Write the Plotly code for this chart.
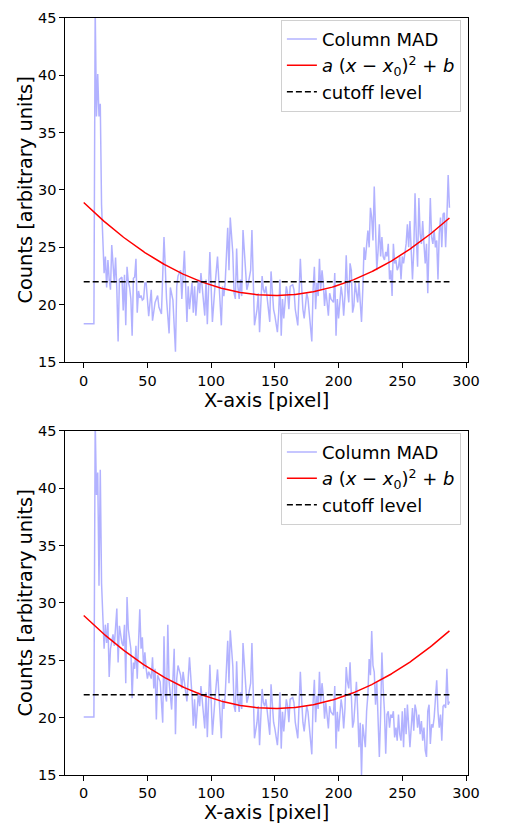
import plotly.graph_objects as go

# ---------------- data ----------------
x1 = [0, 1, 2, 3, 4, 5, 6, 7, 8, 9, 10, 11, 12, 13, 14, 16, 17, 18, 19, 20, 21, 22, 23, 24, 25, 26, 27, 28, 30,
      31, 32, 33, 34, 35, 36, 37, 38, 39, 40, 41, 42, 43, 44, 45, 46, 47, 48, 49, 51, 53, 54, 56, 58, 59, 61,
      63, 64, 65, 67, 68, 70, 72, 73, 74, 76, 77, 79, 81, 82, 83, 85, 86, 87, 88, 90, 91, 92, 94, 95, 96, 97,
      99, 100, 101, 103, 104, 105, 106, 108, 109, 110, 111, 113, 114, 115, 117, 118, 119, 120, 121, 122, 123,
      124, 125, 127, 128, 129, 131, 132, 133, 134, 136, 137, 138, 140, 141, 142, 143, 145, 146, 147, 148, 149,
      150, 152, 153, 154, 155, 156, 157, 159, 160, 161, 162, 164, 165, 166, 168, 169, 170, 171, 172, 173, 175,
      176, 178, 179, 180, 181, 182, 183, 184, 185, 186, 187, 188, 189, 190, 192, 193, 194, 196, 197, 198, 199,
      200, 201, 202, 203, 204, 205, 206, 207, 208, 209, 210, 211, 212, 213, 214, 215, 216, 217, 218, 219, 220,
      221, 222, 223, 224, 225, 226, 227, 228, 229, 230, 231, 232, 233, 234, 235, 236, 237, 238, 239, 240, 241,
      242, 243, 244, 245, 246, 247, 248, 249, 250, 251, 253, 254, 255, 256, 257, 258, 259, 260, 261, 262, 263,
      264, 265, 266, 267, 268, 269, 270, 271, 272, 273, 274, 275, 276, 277, 278, 279, 280, 281, 282, 283, 284,
      285, 286, 287]
mad1 = [18.35, 18.35, 18.35, 18.35, 18.35, 18.35, 18.35, 18.35, 18.35, 46.0, 36.4, 40.1, 36.4, 37.5, 28.7, 22.75,
        24.2, 21.5, 23.9, 22.2, 21.3, 25.2, 23.0, 21.9, 24.1, 21.3, 16.8, 22.2, 22.4,
        19.5, 22.6, 18.2, 23.3, 22.0, 21.5, 20.5, 17.3, 22.3, 22.4, 24.0, 19.3, 21.2, 20.6, 20.8, 20.4, 20.5, 21.9,
        21.9, 19.0, 21.3, 18.6, 20.2, 20.8, 19.8, 19.2,
        25.9, 23.3, 20.5, 17.5, 21.5, 20.4, 15.9, 21.6, 22.5, 23.0, 20.5, 24.7, 18.5, 21.6, 19.6, 21.9, 19.3, 21.6,
        19.05, 22.2, 21.0, 22.75, 20.5, 19.05, 22.2, 18.3,
        24.6, 21.0, 18.5, 21.6, 22.75, 24.2, 22.2, 18.2, 21.6, 20.75, 21.9, 26.7, 23.0, 27.6, 24.5, 21.0, 20.5, 24.9,
        21.6, 20.5, 22.2,
        20.75, 26.5, 23.3, 21.3, 21.75, 23.0, 26.5, 21.0, 18.2, 19.6, 21.0, 17.6, 22.5, 21.3, 21.0, 21.6, 19.3, 18.5,
        22.9, 21.0, 19.6,
        19.05, 17.6, 19.3, 22.2, 17.3, 20.5, 18.8, 21.6, 21.0, 19.6, 21.6, 21.75, 21.3, 19.6, 18.2, 22.2, 24.0, 21.6,
        19.6, 18.8, 21.0,
        20.5, 18.2, 16.8, 21.3, 23.3, 19.6, 21.9, 20.75, 24.0, 21.3, 23.0, 21.9, 19.9, 21.3, 19.05, 21.0, 20.5, 20.2,
        22.75, 17.3, 20.5,
        18.8, 20.2, 21.6, 20.75, 19.05, 20.75, 24.3, 21.3, 20.2, 23.6, 23.0, 19.3, 19.9, 21.9, 20.75, 20.2, 21.9,
        20.2, 18.5, 21.3, 25.0,
        23.9, 25.3, 26.45, 25.0, 28.45, 27.6, 25.6, 30.3, 26.7, 23.0, 24.7, 27.0, 24.2, 25.9, 24.2, 23.9, 24.6, 24.2,
        25.3, 22.2, 23.0,
        20.75, 25.3, 23.6, 23.9, 23.0, 23.3, 24.2, 22.2, 24.2, 23.6, 25.3, 27.0, 25.0, 27.3, 25.3, 22.2, 24.7, 29.7,
        25.9, 23.3, 29.3,
        26.2, 25.3, 27.3, 25.3, 23.6, 25.3, 21.0, 25.3, 29.3, 25.9, 25.3, 26.45, 25.0, 25.6, 22.2, 26.2, 27.6, 25.0,
        27.9, 28.0, 25.0,
        27.6, 31.3, 28.45]

x2_left = [0, 1, 2, 3, 4, 5, 6, 7, 8, 9, 10, 11, 12, 13, 14, 16, 17, 18, 19, 20, 21, 23, 24, 26, 27, 28, 30, 31,
           32, 33, 34, 35, 37, 38, 39, 40, 41, 42, 44, 45, 46, 47, 48, 49, 50, 51, 53, 54, 55, 56, 57, 58, 60,
           62, 63, 64, 65, 66, 67, 69, 70, 71, 72, 73, 74, 76, 77, 78, 79, 81, 82, 83]
mad2_left = [20.05, 20.05, 20.05, 20.05, 20.05, 20.05, 20.05, 20.05, 20.05, 46.0, 39.4, 41.35, 31.5, 41.6, 31.7,
             26.0, 28.1, 26.5, 28.25, 23.55, 26.0, 27.25, 26.25, 29.5, 24.8, 28.0, 26.5, 26.25,
             28.1, 23.0, 30.5, 27.7, 26.0, 21.7, 24.8, 24.26, 26.25, 23.4, 29.44, 26.0, 27.0, 24.26, 25.7, 24.26,
             23.4, 24.0, 23.4, 25.26, 22.55, 24.26, 19.84, 23.7, 23.12,
             19.56, 27.1, 22.0, 21.4, 28.1, 23.12, 20.7, 23.7, 26.0, 18.56, 23.4, 24.54, 23.7, 22.55, 24.0, 23.12,
             21.41, 23.4, 25.26]
x2_right = [206, 207, 208, 209, 210, 211, 212, 213, 214, 215, 216, 217, 218, 219, 220, 221, 222, 223, 224, 225,
            226, 227, 228, 229, 230, 231, 232, 233, 234, 235, 236, 237, 238, 239, 240, 241, 242, 243, 244, 245,
            246, 247, 248, 249, 250, 251, 252, 253, 254, 256, 257, 258, 259, 260, 261, 262, 263, 264, 265, 266,
            267, 268, 269, 270, 271, 272, 273, 274, 275, 276, 277, 278, 279, 280, 281, 282, 283, 284, 285, 286, 287]
mad2_right = [24.4, 23.12, 22.55, 24.83, 22.26, 19.13, 19.7, 21.41, 23.12, 20.56, 17.42, 19.56, 15.0, 19.42, 18.56,
              17.42, 20.56, 21.98, 25.11, 23.69,
              27.54, 24.54, 23.97, 21.13, 23.12, 20.27, 16.57, 20.27, 25.68, 22.55, 20.56, 16.85, 20.27, 20.56, 19.13,
              20.27, 19.99, 20.56, 18.28, 19.13,
              17.99, 20.27, 18.56, 17.99, 20.56, 17.42, 20.84, 18.56, 21.13, 17.42, 19.42, 20.84, 18.85, 21.13, 20.56,
              19.13, 20.27, 18.56, 19.7, 17.99,
              19.13, 17.14, 16.57, 20.56, 21.13, 17.71, 19.42, 19.13, 19.99, 21.98, 23.26, 20.56, 19.13, 20.27, 17.99,
              20.98, 21.13, 20.84, 24.26, 21.13, 21.41]
# middle section (x 84..205) identical to the first panel
x2 = x2_left + [x for x in x1 if 84 <= x <= 205] + x2_right
mad2 = mad2_left + [v for x, v in zip(x1, mad1) if 84 <= x <= 205] + mad2_right

fit_a, fit_x0, fit_b = 3.6e-4, 150.0, 20.8
cutoff = 22.0
x_fit = list(range(0, 288))
y_fit = [fit_a * (x - fit_x0) ** 2 + fit_b for x in x_fit]

x_ticks = [0, 50, 100, 150, 200, 250, 300]
y_ticks = [15, 20, 25, 30, 35, 40, 45]

# ---------------- figure ----------------
W, H = 510, 834
FONT = "DejaVu Sans"
fig = go.Figure()

panels = [
    dict(x=x1, y=mad1, xa="x", ya="y", leg="legend", top=10, bot=361),
    dict(x=x2, y=mad2, xa="x2", ya="y2", leg="legend2", top=431, bot=782),
]
fit_name = "<i>a</i> (<i>x</i> − <i>x</i><sub>0</sub>)<sup>2</sup> + <i>b</i>"
for p in panels:
    fig.add_trace(go.Scatter(x=p["x"], y=p["y"], mode="lines", name="Column MAD",
                             line=dict(color="rgba(0,0,255,0.3)", width=1.5),
                             xaxis=p["xa"], yaxis=p["ya"], legend=p["leg"]))
    fig.add_trace(go.Scatter(x=x_fit, y=y_fit, mode="lines", name=fit_name,
                             line=dict(color="red", width=1.5),
                             xaxis=p["xa"], yaxis=p["ya"], legend=p["leg"]))
    fig.add_trace(go.Scatter(x=[0, 287], y=[cutoff, cutoff], mode="lines", name="cutoff level",
                             line=dict(color="black", width=1.5, dash="6px,3px"),
                             xaxis=p["xa"], yaxis=p["ya"], legend=p["leg"]))

xdom = [67 / W, 479 / W]
axis_common = dict(showline=True, linecolor="black", linewidth=1.1, mirror=True, ticks="outside",
                   ticklen=5, tickwidth=1.1, tickcolor="black", showgrid=False, zeroline=False,
                   tickfont=dict(family=FONT, size=14.5, color="black"))
layout = dict(width=W, height=H, margin=dict(l=0, r=0, t=0, b=0),
              paper_bgcolor="white", plot_bgcolor="white", showlegend=True)
for i, p in enumerate(panels):
    sfx = "" if i == 0 else "2"
    layout["xaxis" + sfx] = dict(axis_common, domain=xdom, range=[-14.35, 301.35], tickvals=x_ticks,
                                 anchor="y" + sfx,
                                 title=dict(text="X-axis [pixel]", font=dict(family=FONT, size=19.4, color="black"),
                                            standoff=3))
    layout["yaxis" + sfx] = dict(axis_common, domain=[1 - p["bot"] / H, 1 - p["top"] / H], range=[15, 45],
                                 tickvals=y_ticks, anchor="x" + sfx,
                                 title=dict(text="Counts [arbitrary units]",
                                            font=dict(family=FONT, size=19.4, color="black"), standoff=0))
    layout[p["leg"]] = dict(x=472 / W, y=1 - (p["top"] + 2) / H, xanchor="right", yanchor="top",
                            bgcolor="white", bordercolor="#d0d0d0", borderwidth=1,
                            font=dict(family=FONT, size=18, color="black"), tracegroupgap=0)
fig.update_layout(**layout)
fig.write_html("out.html")
